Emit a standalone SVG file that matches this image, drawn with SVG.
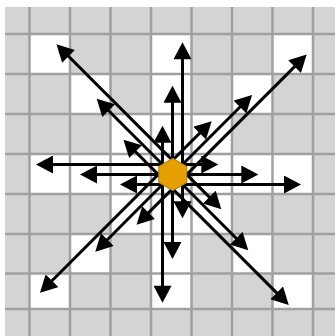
<svg xmlns="http://www.w3.org/2000/svg" width="335" height="336" viewBox="0 0 335 336">
<style>
.cell{fill:#ffffff}
.gl{stroke:#a0a0a0;stroke-width:2.5}
.ar{stroke:#000;stroke-width:3;fill:none;marker-end:url(#ah)}
</style>
<defs>
<marker id="ah" markerUnits="userSpaceOnUse" markerWidth="18" markerHeight="18" viewBox="0 0 17 18" refX="12" refY="9" orient="auto">
<path d="M0,0 L17,9 L0,18 z" fill="#000"/>
</marker>
</defs>
<rect x="0" y="0" width="335" height="336" fill="#fff"/>
<g id="board">
<rect x="5" y="7" width="330" height="329" fill="#d4d4d4"/>
<rect class="cell" x="29.5" y="34" width="40.5" height="40"/>
<rect class="cell" x="151" y="34" width="40.5" height="40"/>
<rect class="cell" x="272.5" y="34" width="40.5" height="40"/>
<rect class="cell" x="70" y="74" width="40.5" height="40"/>
<rect class="cell" x="151" y="74" width="40.5" height="40"/>
<rect class="cell" x="232" y="74" width="40.5" height="40"/>
<rect class="cell" x="110.5" y="114" width="121.5" height="40"/>
<rect class="cell" x="29.5" y="154" width="283.5" height="40"/>
<rect class="cell" x="110.5" y="194" width="121.5" height="40"/>
<rect class="cell" x="70" y="234" width="40.5" height="39.5"/>
<rect class="cell" x="151" y="234" width="40.5" height="39.5"/>
<rect class="cell" x="232" y="234" width="40.5" height="39.5"/>
<rect class="cell" x="29.5" y="273.5" width="40.5" height="35.5"/>
<rect class="cell" x="151" y="273.5" width="40.5" height="35.5"/>
<rect class="cell" x="272.5" y="273.5" width="40.5" height="35.5"/>
<g class="gl">
<line x1="29.5" y1="7" x2="29.5" y2="336"/>
<line x1="70" y1="7" x2="70" y2="336"/>
<line x1="110.5" y1="7" x2="110.5" y2="336"/>
<line x1="151" y1="7" x2="151" y2="336"/>
<line x1="191.5" y1="7" x2="191.5" y2="336"/>
<line x1="232" y1="7" x2="232" y2="336"/>
<line x1="272.5" y1="7" x2="272.5" y2="336"/>
<line x1="313" y1="7" x2="313" y2="336"/>
<line x1="5" y1="34" x2="335" y2="34"/>
<line x1="5" y1="74" x2="335" y2="74"/>
<line x1="5" y1="114" x2="335" y2="114"/>
<line x1="5" y1="154" x2="335" y2="154"/>
<line x1="5" y1="194" x2="335" y2="194"/>
<line x1="5" y1="234" x2="335" y2="234"/>
<line x1="5" y1="273.5" x2="335" y2="273.5"/>
<line x1="5" y1="309" x2="335" y2="309"/>
</g>
</g>
<g id="connectors">
<line class="ar" x1="182.5" y1="174.5" x2="182.5" y2="47.3"/>
<line class="ar" x1="172.5" y1="174.5" x2="172.5" y2="90.7"/>
<line class="ar" x1="162.5" y1="174.5" x2="162.5" y2="130.7"/>
<line class="ar" x1="162.5" y1="174.5" x2="162.5" y2="297.7"/>
<line class="ar" x1="172.5" y1="174.5" x2="172.5" y2="254"/>
<line class="ar" x1="182.5" y1="174.5" x2="182.5" y2="213.3"/>
<line class="ar" x1="172.5" y1="164.5" x2="41" y2="164.5"/>
<line class="ar" x1="172.5" y1="174.5" x2="85" y2="174.5"/>
<line class="ar" x1="172.5" y1="184.5" x2="125" y2="184.5"/>
<line class="ar" x1="172.5" y1="184.5" x2="296" y2="184.5"/>
<line class="ar" x1="172.5" y1="174.5" x2="253.3" y2="174.5"/>
<line class="ar" x1="172.5" y1="164.5" x2="213.3" y2="164.5"/>
<line class="ar" x1="179.6" y1="167.4" x2="60" y2="47.8"/>
<line class="ar" x1="172.5" y1="174.5" x2="100.2" y2="102.2"/>
<line class="ar" x1="165.4" y1="181.6" x2="127" y2="143.2"/>
<line class="ar" x1="165.4" y1="181.6" x2="285.2" y2="301.4"/>
<line class="ar" x1="172.5" y1="174.5" x2="244.7" y2="246.7"/>
<line class="ar" x1="179.6" y1="167.4" x2="217.8" y2="205.6"/>
<line class="ar" x1="179.6" y1="181.6" x2="303.1" y2="58.1"/>
<line class="ar" x1="172.5" y1="174.5" x2="248.5" y2="98.5"/>
<line class="ar" x1="165.4" y1="167.4" x2="208.1" y2="124.7"/>
<line class="ar" x1="165.4" y1="167.4" x2="43.5" y2="289.3"/>
<line class="ar" x1="172.5" y1="174.5" x2="98.8" y2="248.2"/>
<line class="ar" x1="179.6" y1="181.6" x2="140.1" y2="221.1"/>
</g>
<g id="piece">
<polygon points="172.8,158.3 186.8,166.4 186.8,182.6 172.8,190.7 158.8,182.6 158.8,166.4" fill="#E69F00" stroke="#b07a00" stroke-width="1"/>
</g>
</svg>
